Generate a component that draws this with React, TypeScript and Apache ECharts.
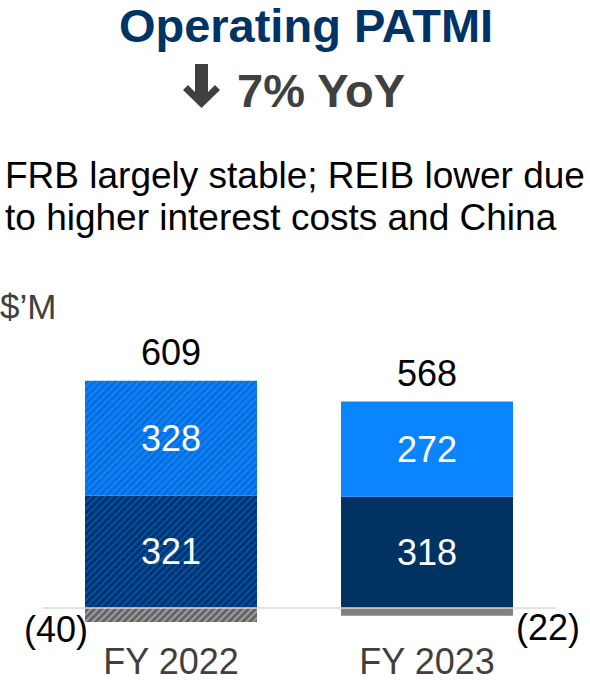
import React, { useEffect, useRef } from "react";
import * as echarts from "echarts";

const categories = ["FY 2022", "FY 2023"];
const frbValues = [321, 318];
const reibValues = [328, 272];
const otherValues = [-40, -22];
const totalValues = [609, 568];
const otherLabels = ["(40)", "(22)"];
const hatched = [true, false];

const FONT = "'Liberation Sans', Arial, Helvetica, sans-serif";

// diagonal "/" hatch tile
const hatch = (base: string, stripe: string) => {
  const s = 7;
  const c = document.createElement("canvas");
  c.width = s;
  c.height = s;
  const ctx = c.getContext("2d")!;
  ctx.fillStyle = base;
  ctx.fillRect(0, 0, s, s);
  ctx.strokeStyle = stripe;
  ctx.lineWidth = 2.2;
  ctx.beginPath();
  for (let k = -1; k <= 1; k++) {
    ctx.moveTo(k * s - 1, s + 1);
    ctx.lineTo(k * s + s + 1, -1);
  }
  ctx.stroke();
  return { image: c, repeat: "repeat" };
};

export default function App() {
  const ref = useRef<HTMLDivElement>(null);

  useEffect(() => {
    if (!ref.current) return;
    const chart = echarts.init(ref.current, null, { renderer: "svg" });

    const frbData = frbValues.map((v, i) => ({
      value: v,
      itemStyle: { color: hatched[i] ? hatch("#00326a", "#0052a6") : "#003362" },
    }));
    const reibData = reibValues.map((v, i) => ({
      value: v,
      itemStyle: { color: hatched[i] ? hatch("#0a80fa", "#0a6bd3") : "#0b84ff" },
    }));
    const otherData = otherValues.map((v, i) => ({
      value: v,
      itemStyle: { color: hatched[i] ? hatch("#636363", "#9c9c9c") : "#808080" },
      label: {
        show: true,
        position: i === 0 ? "left" : "right",
        distance: 0,
        offset: i === 0 ? [3, 14] : [3, 16],
        formatter: () => otherLabels[i],
        color: "#000000",
        fontSize: 36,
        fontFamily: FONT,
      },
    }));
    // label anchor at the top of the positive stack
    const totalData = categories.map((_, i) => ({
      value: [i, frbValues[i] + reibValues[i]],
    }));

    const option: any = {
      animation: false,
      backgroundColor: "#ffffff",
      grid: { left: 43, right: 35, top: 363, bottom: 38, outerBoundsMode: "none", containLabel: false },
      xAxis: {
        type: "category",
        data: categories,
        z: 10,
        axisLine: { show: true, onZero: true, lineStyle: { color: "#d9d9d9", width: 1.5 } },
        axisTick: { show: false },
        axisLabel: {
          color: "#404040",
          fontSize: 36,
          lineHeight: 32,
          fontFamily: FONT,
          margin: 2,
        },
      },
      yAxis: {
        type: "value",
        min: -100,
        max: 700,
        show: false,
        splitLine: { show: false },
      },
      series: [
        {
          name: "FRB",
          type: "bar",
          stack: "total",
          barWidth: 172,
          data: frbData,
          label: {
            show: true,
            position: "inside",
            color: "#ffffff",
            fontSize: 36,
            fontFamily: FONT,
          },
        },
        {
          name: "REIB",
          type: "bar",
          stack: "total",
          barWidth: 172,
          data: reibData,
          label: {
            show: true,
            position: "inside",
            color: "#ffffff",
            fontSize: 36,
            fontFamily: FONT,
          },
        },
        {
          name: "Others",
          type: "bar",
          stack: "total",
          barWidth: 172,
          data: otherData,
        },
        {
          name: "Total",
          type: "scatter",
          symbolSize: 0,
          data: totalData,
          z: 5,
          itemStyle: { opacity: 1 },
          label: {
            show: true,
            position: "top",
            distance: 10,
            color: "#000000",
            opacity: 1,
            fontSize: 36,
            lineHeight: 36,
            fontFamily: FONT,
            formatter: (p: any) => String(totalValues[p.dataIndex]),
          },
        },
      ],
      graphic: [
        {
          type: "text",
          x: 306,
          y: 25,
          style: {
            text: "Operating PATMI",
            fontSize: 47,
            fontWeight: "bold",
            fontFamily: FONT,
            fill: "#003366",
            textAlign: "center",
            textVerticalAlign: "middle",
          },
        },
        {
          type: "polygon",
          shape: {
            points: [
              [195, 64],
              [208, 64],
              [208, 92],
              [215, 85],
              [220, 90],
              [201.5, 108],
              [183, 90],
              [188, 85],
              [195, 92],
            ],
          },
          style: { fill: "#404040" },
        },
        {
          type: "text",
          x: 237,
          y: 90,
          style: {
            text: "7% YoY",
            fontSize: 47,
            fontWeight: "bold",
            fontFamily: FONT,
            fill: "#404040",
            textAlign: "left",
            textVerticalAlign: "middle",
          },
        },
        {
          type: "text",
          x: 5,
          y: 175,
          style: {
            text: "FRB largely stable; REIB lower due",
            fontSize: 37,
            fontFamily: FONT,
            fill: "#000000",
            textAlign: "left",
            textVerticalAlign: "middle",
          },
        },
        {
          type: "text",
          x: 5,
          y: 217,
          style: {
            text: "to higher interest costs and China",
            fontSize: 37,
            fontFamily: FONT,
            fill: "#000000",
            textAlign: "left",
            textVerticalAlign: "middle",
          },
        },
        {
          type: "text",
          x: 0,
          y: 306,
          style: {
            text: "$\u2019M",
            fontSize: 35,
            fontFamily: FONT,
            fill: "#404040",
            textAlign: "left",
            textVerticalAlign: "middle",
          },
        },
      ],
    };

    chart.setOption(option);
    return () => chart.dispose();
  }, []);

  return (
    <div
      ref={ref}
      style={{ position: "fixed", left: 0, top: 0, width: 590, height: 681, background: "#fff" }}
    />
  );
}
